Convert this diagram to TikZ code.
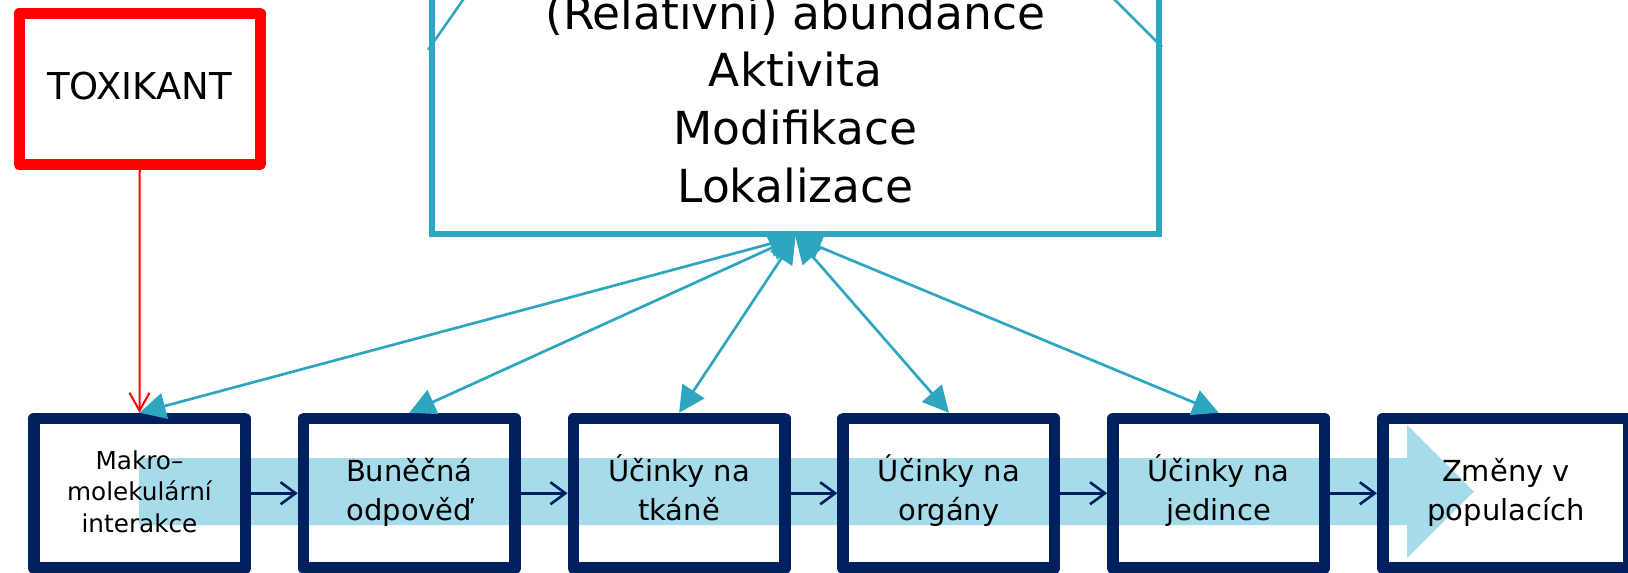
\documentclass[tikz,border=0pt]{standalone}
\usepackage{fontspec}
\setmainfont{DejaVu Sans}
\usetikzlibrary{arrows.meta}
\definecolor{navy}{HTML}{002060}
\definecolor{cyanb}{HTML}{2EA6C0}
\definecolor{bandblue}{HTML}{A6DCE9}
\definecolor{toxred}{HTML}{FF0000}
\begin{document}
\begin{tikzpicture}[x=1pt,y=-1pt,
  stage/.style={draw=navy, line width=11.5pt, line join=round, minimum width=211.5pt, minimum height=149.5pt, inner sep=0pt},
  lbl/.style={align=center, anchor=base, inner sep=0pt, font=\fontsize{29}{38.3}\selectfont},
  flow/.style={draw=navy, line width=2.6pt, ->, >={Straight Barb[length=15pt,width=22pt]}},
  link/.style={draw=cyanb, line width=2.7pt, <->, >={Triangle[length=26pt,width=26pt]}},
  thin/.style={draw=cyanb, line width=2.5pt}
]
\useasboundingbox (0,0) rectangle (1628,573);
\clip (0,0) rectangle (1628,573);

% big light-blue arrow in the background
\fill[bandblue] (139,458) -- (1407,458) -- (1407,425) -- (1474,491.5) -- (1407,558) -- (1407,525) -- (139,525) -- cycle;

% top box
\node[draw=cyanb, line width=6pt, minimum width=727pt, minimum height=334pt, inner sep=0pt] (top) at (795.5,67) {};
\node[align=center, anchor=base, inner sep=0pt, font=\fontsize{45.5}{57.6}\selectfont] (toptext) at (795.5,202)
  {(Relativní) abundance\\Aktivita\\Modifikace\\Lokalizace};
\coordinate (la) at (428,50);
\coordinate (lb) at (477,-20);
\coordinate (ra) at (1162,47);
\coordinate (rb) at (1095,-20);
\draw[thin] (la) -- (lb);
\draw[thin] (ra) -- (rb);

% toxicant
\node[draw=toxred, line width=11pt, line join=round, minimum width=241pt, minimum height=151.3pt, inner sep=0pt] (tox) at (139.75,88.85) {};
\node[anchor=base, inner sep=0pt, font=\fontsize{37}{44}\selectfont] (toxtext) at (139.5,99.3) {TOXIKANT};

% stages
\node[stage] (b1) at (139.5,493.25) {};
\node[stage] (b2) at (409.3,493.25) {};
\node[stage] (b3) at (679.1,493.25) {};
\node[stage] (b4) at (948.9,493.25) {};
\node[stage] (b5) at (1218.7,493.25) {};
\node[stage, minimum width=246pt] (b6) at (1505.75,493.25) {};

\node[lbl, font=\fontsize{24.7}{31.8}\selectfont] (t1) at (139.5,532.7) {Makro–\\molekulární\\interakce};
\node[lbl] (t2) at (409.3,520) {Buněčná\\odpověď};
\node[lbl] (t3) at (679.1,520) {Účinky na\\tkáně};
\node[lbl] (t4) at (948.9,520) {Účinky na\\orgány};
\node[lbl] (t5) at (1218.7,520) {Účinky na\\jedince};
\node[lbl] (t6) at (1506,520) {Změny v\\populacích};

% flow arrows
\draw[flow] (b1.east) -- (b2.west);
\draw[flow] (b2.east) -- (b3.west);
\draw[flow] (b3.east) -- (b4.west);
\draw[flow] (b4.east) -- (b5.west);
\draw[flow] (b5.east) -- (b6.west);

% toxicant arrow
\draw[draw=toxred, line width=2pt, ->, >={Straight Barb[length=18pt,width=20pt]}] (tox.south) -- (b1.north);

% links to top box
\draw[link] (top.south) -- (b1.north);
\draw[link] (top.south) -- (b2.north);
\draw[link] (top.south) -- (b3.north);
\draw[link] (top.south) -- (b4.north);
\draw[link] (top.south) -- (b5.north);
\end{tikzpicture}
\end{document}
